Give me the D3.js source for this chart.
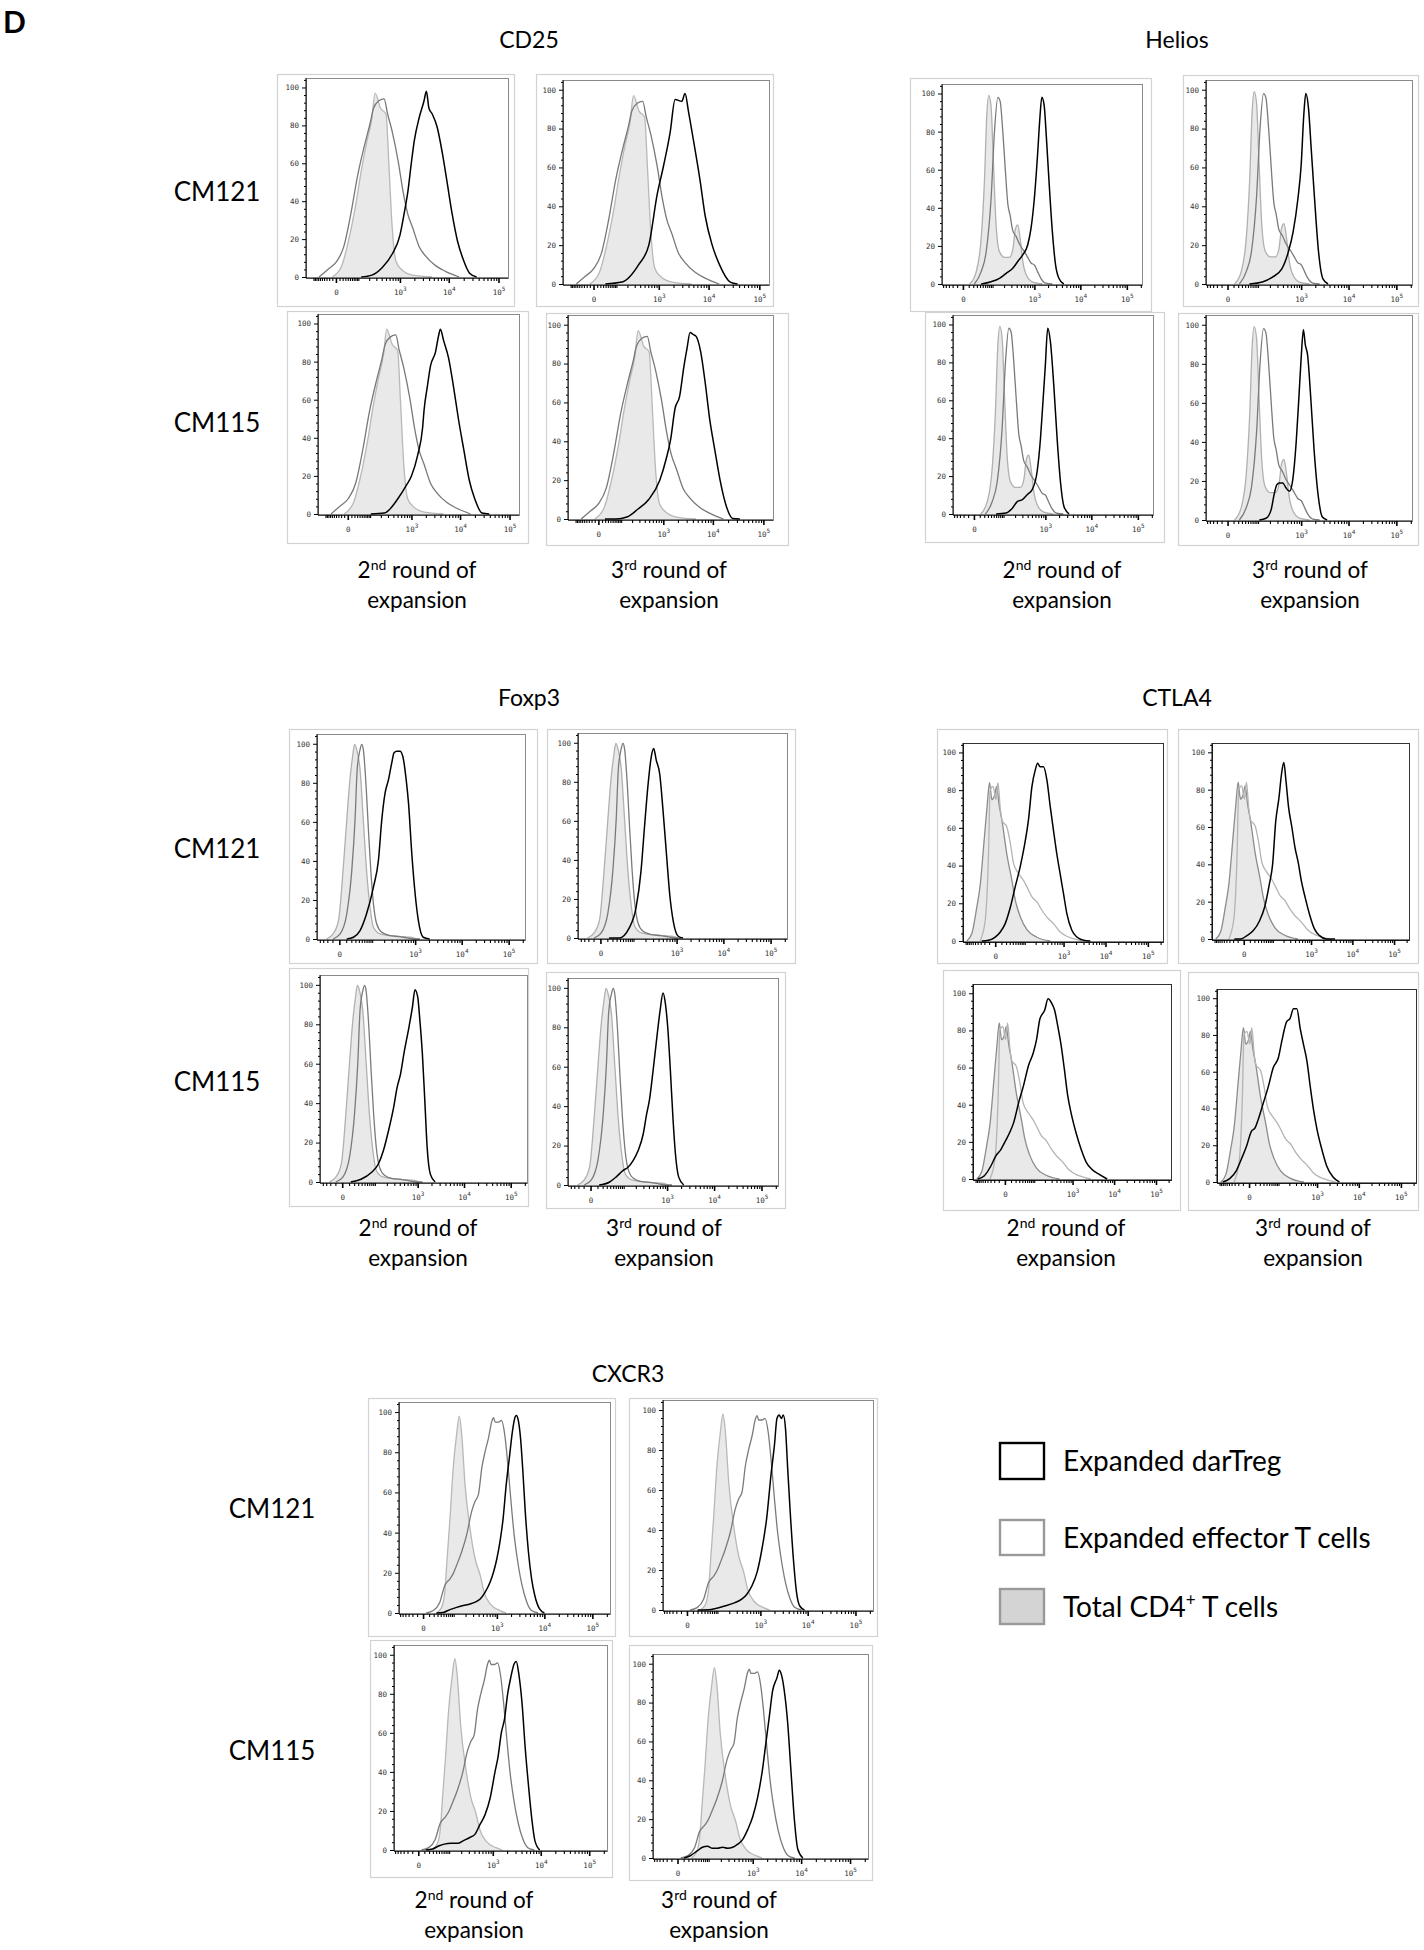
<!DOCTYPE html>
<html><head><meta charset="utf-8">
<script src="https://cdn.jsdelivr.net/npm/d3@7"></script>
<style>body{margin:0;background:#fff}svg{display:block}</style>
</head><body>
<svg id="fig" width="1424" height="1950"></svg>
<script>
// ---------- DATA: [fluorescence value, % of max] ----------
// CD25
const cd25Total = [[-10,0],[17,6],[45,20],[82,38],[122,56],[172,71],[235,84],[280,97],[378,89],[500,86],[580,59],[680,27],[830,8],[1080,4],[1850,1],[4600,0]];
const cd25Effector = [[-65,0],[-25,4],[1,8],[24,16],[54,33],[96,54],[153,70],[211,81],[257,89],[343,93],[454,94],[543,86],[680,77],[920,61],[1166,45],[1468,33],[1848,26],[2512,16],[3415,11],[5410,6],[8570,3],[16200,0]];
const cd25TregCM121R2 = [[122,0],[235,1],[413,5],[680,12],[1000,22],[1259,35],[1468,45],[1711,59],[1995,72],[2512,84],[3162,93],[3520,98],[3981,89],[4642,86],[5843,79],[7356,66],[9260,50],[11760,33],[15000,19],[19100,10],[26300,2],[36400,0]];
const cd25TregCM121R3 = [[39,0],[144,1],[370,10],[617,20],[925,46],[1259,61],[1711,78],[2154,95],[2929,94],[3415,98],[3981,89],[5012,74],[6813,53],[8577,35],[11790,20],[16400,10],[26800,1],[37300,0]];
const cd25TregCM115R2 = [[105,0],[245,0.5],[506,8],[775,15],[1000,20],[1359,31],[1711,45],[1848,55],[2154,67],[2512,78],[3162,85],[3687,94],[3981,97],[4642,91],[5843,82],[7356,67],[9260,50],[11860,34],[15300,18],[19800,8],[27800,0.5],[39000,0]];
const cd25TregCM115R3 = [[19,0],[67,0],[146,1],[275,5],[488,10],[843,20],[1150,31],[1418,41],[1748,57],[2154,63],[2655,79],[3055,88],[3510,96],[4035,95],[4642,94],[5725,86],[7050,70],[8690,51],[10860,36],[13900,20],[17800,8],[24700,0.3],[34300,0]];
// Helios
const heliosTotal = [[12,0],[28,6.5],[44,24],[57,54],[68,89],[78,99],[91,93],[106,63],[125,31],[153,17],[204,14],[270,14],[324,18],[374,29],[422,31],[478,24],[550,12],[654,5],[920,1],[1510,0]];
const heliosEffector = [[23,0],[44,6.5],[65,17],[91,45],[113,80],[139,98],[159,96],[186,80],[216,59],[247,42],[280,36],[324,28],[387,25],[462,21],[598,17],[712,14],[844,11],[1000,10],[1178,6.5],[1390,3],[1778,0.4],[2470,0]];
const heliosTregCM121R2 = [[44,0],[91,1.2],[153,3],[225,5.6],[324,8.3],[422,11.8],[550,15.3],[712,20.6],[844,29.3],[1000,45],[1178,68],[1322,87],[1459,98],[1638,94],[1837,77],[2096,54],[2470,28],[2911,10],[3434,3],[4394,0]];
const heliosTregCM121R3 = [[56,0],[130,1],[225,3.4],[377,7.8],[525,16.4],[669,26.7],[853,44],[1000,61],[1140,87],[1259,98],[1436,90.5],[1638,70],[1931,44],[2350,16.4],[2911,2.6],[3727,0]];
const heliosTregCM115R2 = [[60,0],[117,0.5],[173,3.2],[230,6.7],[301,7.6],[393,10.3],[510,13],[658,22.7],[777,39.6],[874,57.4],[1000,78.7],[1127,98],[1291,91],[1531,68],[1816,39.6],[2154,16.5],[2553,4],[3300,0]];
const heliosTregCM115R3 = [[108,0],[161,0.9],[213,5.2],[255,13.8],[289,18],[333,19],[396,19],[469,16.4],[558,14.7],[659,20.7],[781,39.7],[891,62],[1000,82.8],[1118,97.4],[1230,89.7],[1374,84.5],[1611,62],[1888,36],[2321,12],[2806,1.7],[3565,0]];
// Foxp3
const foxp3Total = [[-22,0],[-9,2.6],[-1,9.5],[5,35],[11,61],[17,81.6],[23,93.6],[28,99.7],[35,96],[44,86.8],[56,61],[70,35],[88,16],[108,6],[159,2.6],[275,1.7],[465,1.2],[775,0.9],[1080,0]];
const foxp3Effector = [[-9,0],[1,2.6],[11,12.9],[21,35],[29,61],[35,86.8],[44,97],[50,99.7],[56,97],[68,78],[79,55.8],[92,35],[108,18],[131,7.7],[175,3.4],[275,1.7],[465,1.2],[555,0.9],[920,0],[1273,0]];
const foxp3TregCM121R2 = [[11,0],[25,0.9],[44,4.3],[70,12.9],[108,26.6],[145,40.4],[175,61],[210,74.7],[253,81.6],[301,90.2],[340,95.4],[393,96.2],[465,96.2],[535,93.6],[636,81.6],[716,69.6],[845,43.8],[1000,23.2],[1175,9.5],[1496,0.9],[2065,0]];
const foxp3TregCM121R3 = [[13,0],[37,0],[77,5.2],[117,15.5],[156,34.4],[189,56.7],[227,77.3],[273,92.8],[310,97],[356,91],[425,84],[505,65],[600,43],[710,22],[845,8.6],[1083,0.9],[1374,0]];
const foxp3TregCM115R2 = [[13,0],[38,1.4],[80,4.8],[122,9],[165,16],[219,26],[290,38],[348,48],[418,55],[495,65],[648,79],[770,89],[872,97.5],[1000,94],[1118,82],[1268,65],[1441,40],[1611,17.5],[1888,4],[2396,0]];
const foxp3TregCM115R3 = [[13,0],[37,1.4],[61,4],[95,7.3],[129,9],[172,12.4],[227,17.5],[298,26],[355,36],[410,43],[487,56.6],[600,75],[710,89],[817,97.4],[920,92],[1033,80],[1178,58],[1346,33],[1510,16],[1778,4],[2276,0]];
// CTLA4
const ctla4Total = [[-92,0],[-64,4],[-43,18],[-32,29],[-20,55],[-14,71],[-9,84],[-5,75],[-1,77],[2,82],[6,72],[11,64],[22,46],[37,32],[49,22],[72,13],[115,6],[216,2],[474,0]];
const ctla4Effector = [[-32,0],[-18,11],[-11,46],[-8,80],[-3,82],[1,75],[4,84],[8,70],[11,64],[22,60.5],[32,51.7],[43,41],[64,35.8],[92,32],[115,28.7],[159,23.4],[216,20.7],[291,16.3],[390,12.7],[570,9.2],[830,4.8],[1202,2.5],[1738,1.2],[2754,0]];
const ctla4TregCM121R2 = [[-27,0],[-11,0.4],[0,2.1],[8,4.8],[18,9.2],[32,18],[49,28.7],[72,39.3],[96,50],[128,64.6],[159,82],[195,90.6],[225,94.2],[263,92.4],[320,92.4],[390,85.3],[474,71],[570,58.4],[688,46],[830,35.4],[1000,25],[1202,14.5],[1585,5.7],[2089,2.1],[3020,0.4],[4365,0]];
const ctla4TregCM121R3 = [[-17,0],[-4.5,0],[4.7,1.8],[17.5,4.5],[35,9.8],[54,17],[78,29.5],[98,40],[121,63],[150,75.9],[176,88.4],[203,94.6],[232,84.8],[272,70.5],[330,60],[398,49],[480,41],[577,31],[720,22],[912,13.4],[1212,5.4],[1616,1.8],[2371,0],[3831,0]];
const ctla4TregCM115R2 = [[-86,0],[-52,1.8],[-29,7],[-16,12.5],[-6,16],[0.9,20.6],[9,26],[15.6,30.5],[28,41],[44,50],[66,61],[94,68],[117,75],[145,86],[198,91],[242,97],[295,95],[357,91],[433,82],[523,72],[630,59],[760,45],[912,36],[1212,25],[1616,16],[2154,9],[2873,5.4],[4217,2.7],[6813,0]];
const ctla4TregCM115R3 = [[-80,0],[-47,1.8],[-25,6.2],[-13,12.5],[-3.6,19.6],[3.4,27.6],[9.7,29.4],[16,33.8],[29,42.7],[46,51.6],[69,62.3],[99,67.6],[124,76.5],[170,87.2],[210,89],[258,94.3],[315,94.3],[383,83.6],[465,74.7],[565,65.8],[685,51.6],[825,39],[1000,28.5],[1304,17.8],[1702,8.9],[2424,2.7],[3453,0]];
// CXCR3
const cxcr3Total = [[27,0],[43,2.8],[55,10.4],[65,27],[79,47],[97,72],[120,89],[140,98],[161,89],[194,64],[255,42],[333,27],[433,18.8],[528,10.4],[717,4.5],[1166,1.2],[1585,0]];
const cxcr3Effector = [[5,0],[19,1.2],[37,5.4],[55,13.7],[79,17],[97,19.6],[120,23.8],[161,30.5],[213,39],[278,50.6],[333,55.6],[396,59],[469,72],[558,80.4],[659,87],[781,95.5],[849,97.2],[921,95],[1080,95],[1259,95.8],[1468,89],[1711,74],[1995,55.6],[2326,39],[2712,27],[3415,13.7],[4300,5.4],[5410,1.2],[7356,0]];
const cxcr3TregCM121R2 = [[27,0],[49,0.3],[79,1.7],[120,2.8],[176,3.7],[255,4.5],[333,5.4],[433,7],[558,10.4],[717,15.4],[849,20.4],[1000,27],[1166,35.5],[1359,47],[1585,64],[1848,77.4],[2154,90.8],[2436,97.5],[2590,98.3],[2840,96],[3162,87.4],[3520,72],[3981,50.6],[4642,30.5],[5410,17],[6310,8.7],[7943,2],[10000,0]];
const cxcr3TregCM121R3 = [[20,0],[67,0.3],[156,2],[274,3.7],[390,5.4],[507,7.9],[657,12.1],[846,18.8],[1080,30.5],[1359,45.6],[1711,69],[1995,82.4],[2255,95.8],[2512,97.5],[2799,95.8],[3069,97.5],[3415,90.8],[3802,70.7],[4300,48.9],[5012,25.5],[5843,8.7],[6813,2],[8577,0]];
const cxcr3TregCM115R2 = [[13,0],[29,0.5],[51,2.2],[73,3],[112,3.4],[167,3.4],[220,4.7],[315,6.4],[410,8],[528,13],[681,18],[876,26.5],[1114,40],[1297,48],[1514,60],[1765,67],[2056,80],[2399,88.6],[2799,95.3],[3111,96.6],[3520,90],[4104,75],[4786,51.7],[5580,33],[6502,16.4],[7586,4.7],[9550,0]];
const cxcr3TregCM115R3 = [[11,0],[26,1.3],[47,3.8],[67,5.5],[93,6],[126,5],[168,5],[220,5.5],[287,5],[372,5.5],[478,7.1],[615,9.6],[783,14.6],[1000,21.2],[1268,31.2],[1611,46],[1888,59.4],[2213,72.6],[2594,86],[3186,92.7],[3565,96.7],[3981,94],[4519,86],[5297,69.6],[6209,44.4],[7278,19.7],[8531,4.6],[10860,0]];

// ---------- ticks / labels ----------
const yMajorTicks = [0, 20, 40, 60, 80, 100];
const yMinorTicks = [4, 8, 12, 16, 24, 28, 32, 36, 44, 48, 52, 56, 64, 68, 72, 76, 84, 88, 92, 96, 104];
const xMajorTicks = [0, 1e3, 1e4, 1e5];
const xMajorExp = ["", "3", "4", "5"];
const xMinorTicks = [-900,-800,-700,-600,-500,-400,-300,-200,-100,-90,-80,-70,-60,-50,-40,-30,-20,-10,
  10,20,30,40,50,60,70,80,90,100,200,300,400,500,600,700,800,900,
  2000,3000,4000,5000,6000,7000,8000,9000,20000,30000,40000,50000,60000,70000,80000,90000,200000];
const markerNames = ["CD25", "Helios", "Foxp3", "CTLA4", "CXCR3"];
const donorNames = ["CM121", "CM115"];
const roundNumbers = ["2", "3"];
const roundSuffixes = ["nd", "rd"];
const legendNames = ["Expanded darTreg", "Expanded effector T cells", "Total CD4"];

// ---------- layout (positions / styles) ----------
const groups = [
  { name: markerNames[0], c: 55, dom: [-164, 155000], title: [529, 48], total: cd25Total, eff: cd25Effector,
    totStroke: "#b8b8b8", effStroke: "#787878", frame: "#8a8a8a",
    cols: [417, 669], labelY: 578, rows: [[217, 201], [217, 432]],
    panels: [
      { o: [277, 74, 514, 306], i: [306, 78, 508, 278], treg: cd25TregCM121R2 },
      { o: [536, 74, 773, 306], i: [563, 80, 769, 285], treg: cd25TregCM121R3 },
      { o: [287, 311, 528, 543], i: [318, 314, 519, 515], treg: cd25TregCM115R2 },
      { o: [546, 313, 788, 545], i: [568, 315, 773, 520], treg: cd25TregCM115R3 } ] },
  { name: markerNames[1], c: 30, dom: [-54.5, 212000], title: [1177, 48], total: heliosTotal, eff: heliosEffector,
    totStroke: "#b0b0b0", effStroke: "#7a7a7a", frame: "#8a8a8a",
    cols: [1062, 1310], labelY: 578, rows: [],
    panels: [
      { o: [910, 78, 1151, 311], i: [942, 84, 1142, 285], treg: heliosTregCM121R2 },
      { o: [1183, 75, 1418, 306], i: [1206, 80, 1412, 285], treg: heliosTregCM121R3 },
      { o: [925, 312, 1164, 542], i: [953, 315, 1153, 515], treg: heliosTregCM115R2 },
      { o: [1178, 313, 1418, 545], i: [1206, 315, 1412, 521], treg: heliosTregCM115R3 } ] },
  { name: markerNames[2], c: 25, dom: [-49.6, 222800], title: [529, 706], total: foxp3Total, eff: foxp3Effector,
    totStroke: "#b0b0b0", effStroke: "#7a7a7a", frame: "#8a8a8a",
    cols: [418, 664], labelY: 1236, rows: [[217, 858], [217, 1091]],
    panels: [
      { o: [289, 729, 537, 963], i: [317, 734, 525, 940], treg: foxp3TregCM121R2 },
      { o: [547, 729, 795, 963], i: [578, 733, 787, 939], treg: foxp3TregCM121R3 },
      { o: [289, 968, 528, 1206], i: [320, 975, 527, 1183], treg: foxp3TregCM115R2 },
      { o: [546, 972, 785, 1208], i: [568, 978, 778, 1186], treg: foxp3TregCM115R3 } ] },
  { name: markerNames[3], c: 25, dom: [-119, 228000], title: [1177, 706], total: ctla4Total, eff: ctla4Effector,
    totStroke: "#8c8c8c", effStroke: "#b4b4b4", frame: "#333",
    cols: [1066, 1313], labelY: 1236, rows: [],
    panels: [
      { o: [937, 729, 1167, 963], i: [963, 743, 1163, 942], treg: ctla4TregCM121R2 },
      { o: [1178, 729, 1418, 963], i: [1212, 743, 1409, 940], treg: ctla4TregCM121R3 },
      { o: [943, 970, 1180, 1210], i: [973, 984, 1171, 1180], treg: ctla4TregCM115R2 },
      { o: [1188, 972, 1418, 1210], i: [1217, 989, 1416, 1183], treg: ctla4TregCM115R3 } ] },
  { name: markerNames[4], c: 30, dom: [-65, 232800], title: [628, 1382], total: cxcr3Total, eff: cxcr3Effector,
    totStroke: "#b8b8b8", effStroke: "#7a7a7a", frame: "#8a8a8a",
    cols: [474, 719], labelY: 1908, rows: [[272, 1518], [272, 1760]],
    panels: [
      { o: [368, 1398, 615, 1636], i: [399, 1402, 610, 1614], treg: cxcr3TregCM121R2 },
      { o: [629, 1398, 877, 1636], i: [663, 1400, 873, 1611], treg: cxcr3TregCM121R3 },
      { o: [370, 1640, 612, 1877], i: [394, 1645, 607, 1851], treg: cxcr3TregCM115R2 },
      { o: [629, 1645, 872, 1880], i: [653, 1654, 868, 1859], treg: cxcr3TregCM115R3 } ] }
];

const svg = d3.select("#fig");
const FONT = "Lato, 'Open Sans', sans-serif";
const TICKFONT = "'DejaVu Sans Mono', monospace";

// panel label "D"
svg.append("text").attr("x", 3).attr("y", 33).attr("font-family", FONT).attr("font-weight", 700)
  .attr("font-size", 30).attr("fill", "#000").text("D");

let clipId = 0;
groups.forEach(g => {
  svg.append("text").attr("x", g.title[0]).attr("y", g.title[1]).attr("text-anchor", "middle")
    .attr("font-family", FONT).attr("font-size", 23).attr("fill", "#000").text(g.name);

  g.rows.forEach((r, k) => {
    svg.append("text").attr("x", r[0]).attr("y", r[1]).attr("text-anchor", "middle")
      .attr("font-family", FONT).attr("font-size", 26).attr("fill", "#000").text(donorNames[k]);
  });

  g.cols.forEach((cx, k) => {
    const t = svg.append("text").attr("x", cx).attr("y", g.labelY).attr("text-anchor", "middle")
      .attr("font-family", FONT).attr("font-size", 22.5).attr("fill", "#000");
    t.append("tspan").text(roundNumbers[k]);
    t.append("tspan").attr("font-size", 14).attr("dy", -8).text(roundSuffixes[k]);
    t.append("tspan").attr("dy", 8).text(" round of");
    svg.append("text").attr("x", cx).attr("y", g.labelY + 30).attr("text-anchor", "middle")
      .attr("font-family", FONT).attr("font-size", 22.5).attr("fill", "#000").text("expansion");
  });

  g.panels.forEach(p => {
    const [L, T, R, B] = p.i;
    const pg = svg.append("g");
    pg.append("rect").attr("x", p.o[0] + 0.5).attr("y", p.o[1] + 0.5)
      .attr("width", p.o[2] - p.o[0]).attr("height", p.o[3] - p.o[1])
      .attr("fill", "#fff").attr("stroke", "#d2d2d2").attr("stroke-width", 1.2);

    const xs = d3.scaleSymlog().constant(g.c).domain(g.dom).range([L, R]);
    const ys = d3.scaleLinear().domain([0, 105]).range([B - 1, T]);

    const id = "clip" + (clipId++);
    pg.append("clipPath").attr("id", id).append("rect")
      .attr("x", L).attr("y", T).attr("width", R - L).attr("height", B - T);
    const plot = pg.append("g").attr("clip-path", `url(#${id})`);

    const area = d3.area().x(d => xs(d[0])).y0(ys(0)).y1(d => ys(d[1])).curve(d3.curveMonotoneX);
    const line = d3.line().x(d => xs(d[0])).y(d => ys(d[1])).curve(d3.curveMonotoneX);

    plot.append("path").datum(g.total).attr("d", area).attr("fill", "#e9e9e9").attr("stroke", "none");
    plot.append("path").datum(g.total).attr("d", line).attr("fill", "none")
      .attr("stroke", g.totStroke).attr("stroke-width", 1.3);
    plot.append("path").datum(g.eff).attr("d", line).attr("fill", "none")
      .attr("stroke", g.effStroke).attr("stroke-width", 1.3);
    plot.append("path").datum(p.treg).attr("d", line).attr("fill", "none")
      .attr("stroke", "#000").attr("stroke-width", 1.5);

    // frame
    pg.append("rect").attr("x", L + 0.5).attr("y", T + 0.5).attr("width", R - L).attr("height", B - T)
      .attr("fill", "none").attr("stroke", g.frame).attr("stroke-width", 1);

    // y axis
    const yAx = pg.append("g").attr("transform", `translate(${L},0)`)
      .call(d3.axisLeft(ys).tickValues(yMajorTicks).tickSize(4).tickPadding(3));
    pg.append("g").attr("transform", `translate(${L},0)`)
      .call(d3.axisLeft(ys).tickValues(yMinorTicks.filter(v => v <= 104)).tickSize(2).tickFormat(""))
      .call(a => a.select(".domain").remove());
    yAx.select(".domain").attr("stroke", "#000").attr("d", `M0,${T}V${B}`);
    yAx.selectAll("text").attr("font-family", TICKFONT).attr("font-size", 7.5).attr("fill", "#333");

    // x axis
    const xAx = pg.append("g").attr("transform", `translate(0,${B})`)
      .call(d3.axisBottom(xs).tickValues(xMajorTicks).tickSize(5).tickPadding(7).tickFormat(() => ""));
    xAx.select(".domain").attr("stroke", "#000").attr("d", `M${L},0H${R}`);
    xAx.selectAll(".tick line").attr("stroke-width", 1.6);
    xAx.selectAll(".tick text").each(function(d, k) {
      const t = d3.select(this).attr("font-family", TICKFONT).attr("font-size", 7.5).attr("fill", "#333");
      if (d === 0) { t.append("tspan").text("0"); }
      else {
        t.append("tspan").text("10");
        t.append("tspan").attr("font-size", 6).attr("dy", -4).text(xMajorExp[k]);
      }
    });
    pg.append("g").attr("transform", `translate(0,${B})`)
      .call(d3.axisBottom(xs).tickValues(xMinorTicks.filter(v => v > g.dom[0] && v < g.dom[1]))
        .tickSize(3).tickFormat(""))
      .call(a => a.select(".domain").remove())
      .selectAll("line").attr("stroke-width", 1.1);
  });
});

// legend
const legendBoxes = [
  { y: 1443, h: 36, stroke: "#000", fill: "#fff" },
  { y: 1520, h: 35, stroke: "#999", fill: "#fff" },
  { y: 1589, h: 35, stroke: "#999", fill: "#d4d4d4" }
];
legendBoxes.forEach((b, k) => {
  svg.append("rect").attr("x", 1000).attr("y", b.y).attr("width", 44).attr("height", b.h)
    .attr("fill", b.fill).attr("stroke", b.stroke).attr("stroke-width", 2.4);
  const t = svg.append("text").attr("x", 1063).attr("y", b.y + b.h / 2 + 10)
    .attr("font-family", FONT).attr("font-size", 28).attr("fill", "#000");
  t.append("tspan").text(legendNames[k]);
  if (k === 2) {
    t.append("tspan").attr("font-size", 17).attr("dy", -11).text("+");
    t.append("tspan").attr("dy", 11).text(" T cells");
  }
});
</script>
</body></html>
